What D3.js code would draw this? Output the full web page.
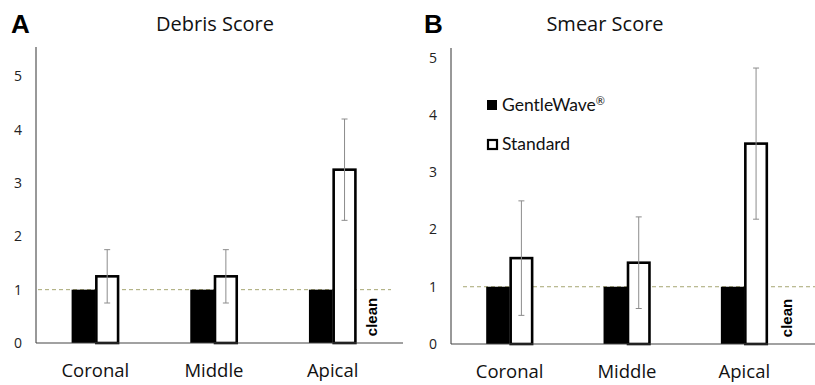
<!DOCTYPE html>
<html>
<head>
<meta charset="utf-8">
<script src="https://cdn.jsdelivr.net/npm/d3@7"></script>
<style>
  body { margin: 0; background: #fff; }
  svg { display: block; }
</style>
</head>
<body>
<svg id="chart" width="815" height="385"></svg>
<script>
// Dados
const categorias = ["Coronal", "Middle", "Apical"];
const series = ["GentleWave®", "Standard"];

const debrisGentle = [1, 1, 1];
const debrisStandard = [1.25, 1.25, 3.25];
const debrisErro = [0.5, 0.5, 0.95];

const smearGentle = [1, 1, 1];
const smearStandard = [1.5, 1.42, 3.5];
const smearErro = [1.0, 0.8, 1.32];

const ticksY = [0, 1, 2, 3, 4, 5];
const limpo = 1; // linha "clean"

const svg = d3.select("#chart");

// Desenha um painel
function desenharPainel(cfg) {
  const g = svg.append("g");

  const x = d3.scaleBand()
    .domain(categorias)
    .range([cfg.x0, cfg.x1])
    .paddingInner(0.6)
    .paddingOuter(0.3);

  const y = d3.scaleLinear()
    .domain([0, cfg.yMax])
    .range([cfg.yBase, cfg.yTop]);

  const larg = x.bandwidth() / 2;

  // letra e título
  g.append("text")
    .attr("x", cfg.letraX).attr("y", 33)
    .attr("font-family", "Liberation Sans, Arial, sans-serif")
    .attr("font-weight", "bold")
    .attr("font-size", 26)
    .text(cfg.letra);

  g.append("text")
    .attr("x", cfg.tituloX).attr("y", 31)
    .attr("text-anchor", "middle")
    .attr("font-family", "Open Sans, sans-serif")
    .attr("font-size", 20)
    .attr("fill", "#111")
    .text(cfg.titulo);

  // eixo y
  g.append("line")
    .attr("x1", cfg.x0).attr("x2", cfg.x0)
    .attr("y1", y(cfg.yMax)).attr("y2", y(0))
    .attr("stroke", "#333").attr("stroke-width", 1);

  g.selectAll(".tick-y")
    .data(ticksY)
    .enter()
    .append("text")
    .attr("x", cfg.x0 - 18)
    .attr("y", d => y(d) + 5)
    .attr("text-anchor", "middle")
    .attr("font-family", "Open Sans, sans-serif")
    .attr("font-size", 14)
    .attr("fill", "#222")
    .text(d => d);

  // linha "clean"
  g.append("line")
    .attr("x1", cfg.tracoX0).attr("x2", cfg.tracoX1)
    .attr("y1", y(limpo)).attr("y2", y(limpo))
    .attr("stroke", "#a6a672")
    .attr("stroke-width", 1)
    .attr("stroke-dasharray", "4,3");

  // barras GentleWave
  g.selectAll(".gw")
    .data(cfg.gentle)
    .enter()
    .append("rect")
    .attr("x", (d, i) => x(categorias[i]))
    .attr("y", d => y(d))
    .attr("width", larg)
    .attr("height", d => y(0) - y(d))
    .attr("fill", "#000");

  // barras Standard
  g.selectAll(".std")
    .data(cfg.standard)
    .enter()
    .append("rect")
    .attr("x", (d, i) => x(categorias[i]) + larg + 1)
    .attr("y", d => y(d))
    .attr("width", larg - 2)
    .attr("height", d => y(0) - y(d))
    .attr("fill", "#fff")
    .attr("stroke", "#000")
    .attr("stroke-width", 2.6);

  // barras de erro
  cfg.standard.forEach((v, i) => {
    const cx = x(categorias[i]) + larg * 1.5;
    const e = cfg.erro[i];
    g.append("line")
      .attr("x1", cx).attr("x2", cx)
      .attr("y1", y(v + e)).attr("y2", y(v - e))
      .attr("stroke", "#8c8c8c").attr("stroke-width", 1);
    [v + e, v - e].forEach(t => {
      g.append("line")
        .attr("x1", cx - 3).attr("x2", cx + 3)
        .attr("y1", y(t)).attr("y2", y(t))
        .attr("stroke", "#8c8c8c").attr("stroke-width", 1);
    });
  });

  // eixo x
  g.append("line")
    .attr("x1", cfg.x0).attr("x2", cfg.baseFim)
    .attr("y1", y(0)).attr("y2", y(0))
    .attr("stroke", "#444").attr("stroke-width", 1.2);

  g.selectAll(".cat")
    .data(categorias)
    .enter()
    .append("text")
    .attr("x", d => x(d) + larg)
    .attr("y", y(0) + 34)
    .attr("text-anchor", "middle")
    .attr("font-family", "Open Sans, sans-serif")
    .attr("font-size", 18.5)
    .attr("fill", "#111")
    .text(d => d);

  // rótulo "clean"
  g.append("text")
    .attr("transform", `translate(${cfg.cleanX},${y(0) - 26}) rotate(-90)`)
    .attr("text-anchor", "middle")
    .attr("font-family", "Liberation Sans, Arial, sans-serif")
    .attr("font-weight", "bold")
    .attr("font-size", 15)
    .text("clean");

  return { x, y };
}

desenharPainel({
  letra: "A", letraX: 11, titulo: "Debris Score", tituloX: 215,
  x0: 36, x1: 392, baseFim: 403, tracoX0: 38, tracoX1: 391,
  yBase: 343, yTop: 47, yMax: 5.55,
  gentle: debrisGentle, standard: debrisStandard, erro: debrisErro,
  cleanX: 377
});

desenharPainel({
  letra: "B", letraX: 424, titulo: "Smear Score", tituloX: 605,
  x0: 451, x1: 803, baseFim: 815, tracoX0: 463, tracoX1: 815,
  yBase: 344, yTop: 48, yMax: 5.17,
  gentle: smearGentle, standard: smearStandard, erro: smearErro,
  cleanX: 792
});

// Legenda
const legenda = svg.append("g").attr("transform", "translate(487,100)");
legenda.selectAll("rect")
  .data(series)
  .enter()
  .append("rect")
  .attr("x", (d, i) => i === 0 ? 0 : 1)
  .attr("y", (d, i) => i * 39 + (i === 0 ? 0 : 1))
  .attr("width", (d, i) => i === 0 ? 10 : 9)
  .attr("height", (d, i) => i === 0 ? 10 : 9)
  .attr("fill", (d, i) => i === 0 ? "#000" : "#fff")
  .attr("stroke", "#000")
  .attr("stroke-width", (d, i) => i === 0 ? 0 : 2.2);

legenda.selectAll("text")
  .data(series)
  .enter()
  .append("text")
  .attr("x", 15)
  .attr("y", (d, i) => i * 39 + 11)
  .attr("font-family", "Lato, sans-serif")
  .attr("font-size", 17.5)
  .attr("fill", "#111")
  .each(function(d) {
    const t = d3.select(this);
    if (d.endsWith("®")) {
      t.append("tspan").text(d.slice(0, -1));
      t.append("tspan").attr("font-size", 11).attr("dy", -6).text("®");
    } else {
      t.text(d);
    }
  });
</script>
</body>
</html>
